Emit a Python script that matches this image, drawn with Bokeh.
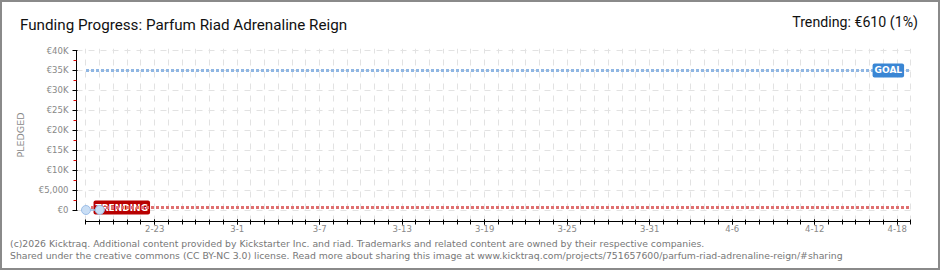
from bokeh.plotting import figure
from bokeh.layouts import column
from bokeh.models import (Range1d, FixedTicker, Label, ColumnDataSource, Div)
from bokeh.embed import file_html
from bokeh.resources import INLINE

# ---- data ----
start_date = "2026-02-18"           # day 0
n_days = 60                          # last day index (4-19)
tick_days = [5, 11, 17, 23, 29, 35, 41, 47, 53, 59]
tick_labels = ["2-23", "3-1", "3-7", "3-13", "3-19", "3-25", "3-31", "4-6", "4-12", "4-18"]
pledged_days = [0, 1]
pledged_values = [0, 20]
goal_value = 35000
trending_value = 610
y_ticks = [0, 5000, 10000, 15000, 20000, 25000, 30000, 35000, 40000]
y_tick_labels = ["€0", "€5,000", "€10K", "€15K", "€20K", "€25K", "€30K", "€35K", "€40K"]
y_minor = [2500, 7500, 12500, 17500, 22500, 27500, 32500, 37500]
title_text = "Funding Progress: Parfum Riad Adrenaline Reign"
trend_text = "Trending: €610 (1%)"
footer1 = "(c)2026 Kicktraq. Additional content provided by Kickstarter Inc. and riad. Trademarks and related content are owned by their respective companies."
footer2 = "Shared under the creative commons (CC BY-NC 3.0) license. Read more about sharing this image at www.kicktraq.com/projects/751657600/parfum-riad-adrenaline-reign/#sharing"

all_days = list(range(0, n_days + 1))
W = 936

# ---- header ----
header_html = (
    '<div style="position:relative;width:936px;height:40px;background:white;">'
    '<span style="position:absolute;left:18px;top:16px;font-family:Roboto;font-size:15.2px;'
    'line-height:15px;color:#111;white-space:nowrap;">' + title_text + '</span>'
    '<span style="position:absolute;right:20px;top:13px;font-family:Roboto;font-size:14.2px;'
    'line-height:14px;color:#111;white-space:nowrap;">' + trend_text + '</span>'
    '</div>'
)
top = Div(text=header_html, width=W, height=40, margin=0)

# ---- main chart ----
p = figure(width=W, height=196, output_backend="svg", toolbar_location=None,
           x_range=Range1d(-0.69, 60.04), y_range=Range1d(-2884, 40502),
           min_border_left=74, min_border_right=27, min_border_top=6, min_border_bottom=17)
p.outline_line_color = None
p.background_fill_color = "white"
p.border_fill_color = "white"

p.xgrid.ticker = FixedTicker(ticks=all_days)
p.ygrid.ticker = FixedTicker(ticks=y_ticks)
for g in (p.xgrid, p.ygrid):
    g.grid_line_color = "#e2e2e2"
    g.grid_line_dash = "6 6"
    g.grid_line_width = 1

xa = p.xaxis[0]
xa.ticker = FixedTicker(ticks=tick_days, minor_ticks=all_days)
xa.major_label_overrides = {d: l for d, l in zip(tick_days, tick_labels)}
xa.bounds = (0, n_days)
xa.axis_line_color = "black"
xa.major_tick_line_color = "black"
xa.minor_tick_line_color = "black"
xa.major_tick_out = 3
xa.major_tick_in = 2
xa.minor_tick_out = 3
xa.minor_tick_in = 2
xa.major_label_standoff = 0
xa.major_label_text_font = "DejaVu Sans"
xa.major_label_text_font_size = "8.5px"
xa.major_label_text_color = "#888888"

ya = p.yaxis[0]
ya.ticker = FixedTicker(ticks=y_ticks, minor_ticks=y_minor)
ya.major_label_overrides = {t: l for t, l in zip(y_ticks, y_tick_labels)}
ya.bounds = (0, 40000)
ya.axis_line_color = "black"
ya.major_tick_line_color = "black"
ya.minor_tick_line_color = "#dd0000"
ya.major_tick_out = 4
ya.major_tick_in = 1
ya.minor_tick_out = 3
ya.minor_tick_in = 0
ya.major_label_standoff = 4
ya.major_label_text_font = "DejaVu Sans"
ya.major_label_text_font_size = "8.5px"
ya.major_label_text_color = "#888888"
ya.axis_label = "PLEDGED"
ya.axis_label_text_font = "DejaVu Sans"
ya.axis_label_text_font_size = "9.5px"
ya.axis_label_text_font_style = "normal"
ya.axis_label_text_color = "#888888"
ya.axis_label_standoff = 10

p.line([0, n_days], [goal_value, goal_value], line_color="#8fb6e3", line_width=3, line_dash="3 2")
p.line([0, n_days], [trending_value, trending_value], line_color="#e07070", line_width=3, line_dash="3 2")

p.add_layout(Label(x=0.55, y=trending_value, text="TRENDING", text_color="white",
                   text_font="DejaVu Sans", text_font_size="9px", text_font_style="bold",
                   text_baseline="middle", text_align="left",
                   background_fill_color="#b80000", border_radius=2, padding=2,
                   level="underlay"))
p.add_layout(Label(x=59.5, y=goal_value, text="GOAL", text_color="white",
                   text_font="DejaVu Sans", text_font_size="9px", text_font_style="bold",
                   text_baseline="middle", text_align="right",
                   background_fill_color="#3a86d4", border_radius=2, padding=2))

src = ColumnDataSource(dict(x=pledged_days, y=pledged_values))
p.line("x", "y", source=src, line_color="#9dc0e8", line_width=1.5)
p.scatter("x", "y", source=src, size=9, fill_color="#c9def5", line_color="#9dbfe8", line_width=1)

# ---- footer ----
footer_html = (
    '<div style="position:relative;width:936px;height:30px;background:white;">'
    '<span style="position:absolute;left:8px;top:0px;font-family:\'DejaVu Sans\';font-size:9.3px;'
    'line-height:12px;color:#777;white-space:nowrap;">' + footer1 + '</span>'
    '<span style="position:absolute;left:8px;top:12px;font-family:\'DejaVu Sans\';font-size:9.3px;'
    'line-height:12px;color:#777;white-space:nowrap;">' + footer2 + '</span>'
    '</div>'
)
bot = Div(text=footer_html, width=W, height=30, margin=0)

layout = column(top, p, bot, spacing=0)
layout.styles = {"border": "2px solid #8a8a8a", "background-color": "white"}

open("out.html", "w").write(file_html(layout, INLINE))
